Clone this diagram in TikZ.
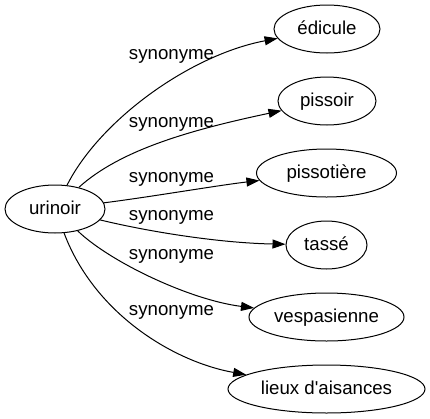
\documentclass[tikz,border=0pt]{standalone}
\usepackage{fontspec}
\setmainfont{Liberation Sans}
\usetikzlibrary{arrows.meta,shapes.geometric}
\begin{document}
\begin{tikzpicture}[x=1bp,y=-1bp,
  every node/.style={font=\fontsize{18.67bp}{22bp}\selectfont},
  term/.style={draw,ellipse,line width=1bp,inner sep=0pt,minimum height=48bp,text height=13bp,text depth=3bp},
  rel/.style={anchor=base,inner sep=0pt},
  link/.style={line width=1bp,-{Triangle[length=13bp,width=9bp]}}]
\useasboundingbox (0,0) rectangle (430,419);
\node[term,minimum width=100bp] (u) at (55,209) {urinoir};
\node[term,minimum width=106bp] (e) at (327,29) {édicule};
\node[term,minimum width=98bp] (p) at (327,101) {pissoir};
\node[term,minimum width=140bp] (pt) at (326.5,173) {pissotière};
\node[term,minimum width=81bp] (t) at (326.5,245) {tassé};
\node[term,minimum width=155bp] (v) at (326.5,317) {vespasienne};
\node[term,minimum width=197bp] (l) at (326.5,389) {lieux d\textquotesingle aisances};
\node[rel] (s1) at (171.5,59) {synonyme};
\node[rel] (s2) at (171.5,127.5) {synonyme};
\node[rel] (s3) at (171.5,182.7) {synonyme};
\node[rel] (s4) at (171.5,220.7) {synonyme};
\node[rel] (s5) at (171.5,259.3) {synonyme};
\node[rel] (s6) at (171.5,315) {synonyme};
\draw[link] (u) .. controls (100,120) and (190,55) .. (e);
\draw[link] (u) .. controls (120,150) and (190,130) .. (p);
\draw[link] (u) .. controls (150,197) and (220,185) .. (pt);
\draw[link] (u) .. controls (150,232) and (220,243) .. (t);
\draw[link] (u) .. controls (110,262) and (190,300) .. (v);
\draw[link] (u) .. controls (95,315) and (175,362) .. (l);
\end{tikzpicture}
\end{document}
